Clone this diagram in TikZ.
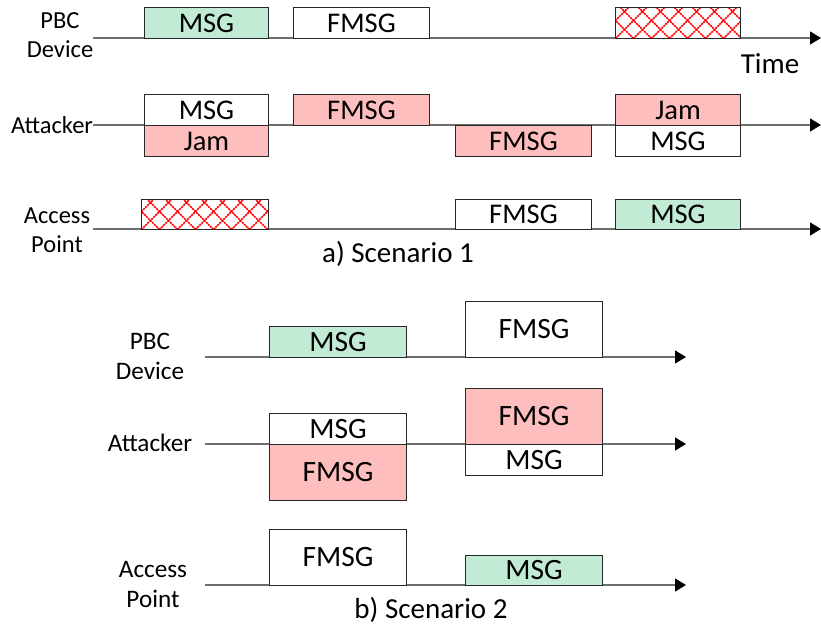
\documentclass[tikz,border=0pt]{standalone}
\usepackage{fontspec}
\setmainfont{Carlito}
\usetikzlibrary{arrows.meta}
\definecolor{okgreen}{RGB}{193,235,212}
\definecolor{badpink}{RGB}{255,190,190}
\definecolor{axisgray}{RGB}{110,110,110}
\definecolor{edgegray}{RGB}{40,40,40}
\begin{document}
\begin{tikzpicture}[x=1pt,y=-1pt,
  frame/.style={draw=edgegray, line width=1pt, inner sep=0pt, anchor=north west, align=center},
  txtA/.style={font=\fontsize{28.5}{30}\selectfont},
  txtB/.style={font=\fontsize{29.5}{30}\selectfont},
  white box/.style={frame, fill=white},
  green box/.style={frame, fill=okgreen},
  pink box/.style={frame, fill=badpink},
  jam box/.style={frame, fill=white, path picture={
    \foreach \k in {-4,...,12}{
      \draw[red, line width=1.7pt, dash pattern=on 2pt off 0.8pt]
        ([xshift=\k*18pt]path picture bounding box.south west) -- ++(60pt,60pt);
      \draw[red, line width=1.7pt, dash pattern=on 2pt off 0.8pt]
        ([xshift=\k*18pt]path picture bounding box.south west) -- ++(-60pt,60pt);
    }}},
  lane/.style={draw=axisgray, line width=1.3pt, -{Triangle[length=11pt,width=13pt,fill=black,color=black]}},
  lbl/.style={align=center, inner sep=0pt},
  nameA/.style={lbl, font=\fontsize{24.5}{29}\selectfont},
  nameB/.style={lbl, font=\fontsize{25.2}{30}\selectfont},
  capt/.style={lbl, font=\fontsize{29}{30}\selectfont},
]
\useasboundingbox[fill=white] (0,0) rectangle (821,629);

% ---------- a) Scenario 1 : time axes ----------
\coordinate (a1s) at (93,38);  \coordinate (a1e) at (821,38);
\coordinate (a2s) at (93,125); \coordinate (a2e) at (821,125);
\coordinate (a3s) at (93,229); \coordinate (a3e) at (821,229);
\draw[lane] (a1s) -- (a1e);
\draw[lane] (a2s) -- (a2e);
\draw[lane] (a3s) -- (a3e);

% PBC device lane
\node[green box, txtA, minimum width=124, minimum height=31] (a1m) at (144,7) {MSG};
\node[white box, txtA, minimum width=136, minimum height=31] (a1f) at (293,7) {FMSG};
\node[jam box, minimum width=125, minimum height=31] (a1j) at (615,7) {};

% attacker lane
\node[white box, txtA, minimum width=124, minimum height=31] (a2m) at (144,94) {MSG};
\node[pink box, txtA, minimum width=124, minimum height=31] (a2j) at (144,125) {Jam};
\node[pink box, txtA, minimum width=136, minimum height=31] (a2f) at (293,94) {FMSG};
\node[pink box, txtA, minimum width=136, minimum height=31] (a2g) at (455,125) {FMSG};
\node[pink box, txtA, minimum width=125, minimum height=31] (a2k) at (615,94) {Jam};
\node[white box, txtA, minimum width=125, minimum height=31] (a2n) at (615,125) {MSG};

% access point lane
\node[jam box, minimum width=127, minimum height=30] (a3j) at (141,199) {};
\node[white box, txtA, minimum width=136, minimum height=30] (a3f) at (455,199) {FMSG};
\node[green box, txtA, minimum width=125, minimum height=30] (a3m) at (615,199) {MSG};

% lane names and captions
\node[nameA] (n1) at (60,35) {PBC\\Device};
\node[nameA] (n2) at (52,125) {Attacker};
\node[nameA] (n3) at (57,230) {Access\\Point};
\node[capt] (tm) at (770,64) {Time};
\node[capt] (capa) at (398,254) {a) Scenario 1};

% ---------- b) Scenario 2 : time axes ----------
\coordinate (b1s) at (205,357); \coordinate (b1e) at (686,357);
\coordinate (b2s) at (205,444); \coordinate (b2e) at (686,444);
\coordinate (b3s) at (205,585); \coordinate (b3e) at (686,585);
\draw[lane] (b1s) -- (b1e);
\draw[lane] (b2s) -- (b2e);
\draw[lane] (b3s) -- (b3e);

% PBC device lane
\node[green box, txtB, minimum width=137, minimum height=31] (b1m) at (269,326) {MSG};
\node[white box, txtB, minimum width=137, minimum height=56] (b1f) at (465,301) {FMSG};

% attacker lane
\node[white box, txtB, minimum width=137, minimum height=31] (b2m) at (269,413) {MSG};
\node[pink box, txtB, minimum width=137, minimum height=56] (b2f) at (269,444) {FMSG};
\node[pink box, txtB, minimum width=137, minimum height=56] (b2g) at (465,388) {FMSG};
\node[white box, txtB, minimum width=137, minimum height=31] (b2n) at (465,444) {MSG};

% access point lane
\node[white box, txtB, minimum width=137, minimum height=56] (b3f) at (269,529) {FMSG};
\node[green box, txtB, minimum width=137, minimum height=30] (b3m) at (465,555) {MSG};

% lane names and caption
\node[nameB] (m1) at (150,356) {PBC\\Device};
\node[nameB] (m2) at (150,443) {Attacker};
\node[nameB] (m3) at (153,584) {Access\\Point};
\node[capt] (capb) at (431,610) {b) Scenario 2};
\end{tikzpicture}
\end{document}
